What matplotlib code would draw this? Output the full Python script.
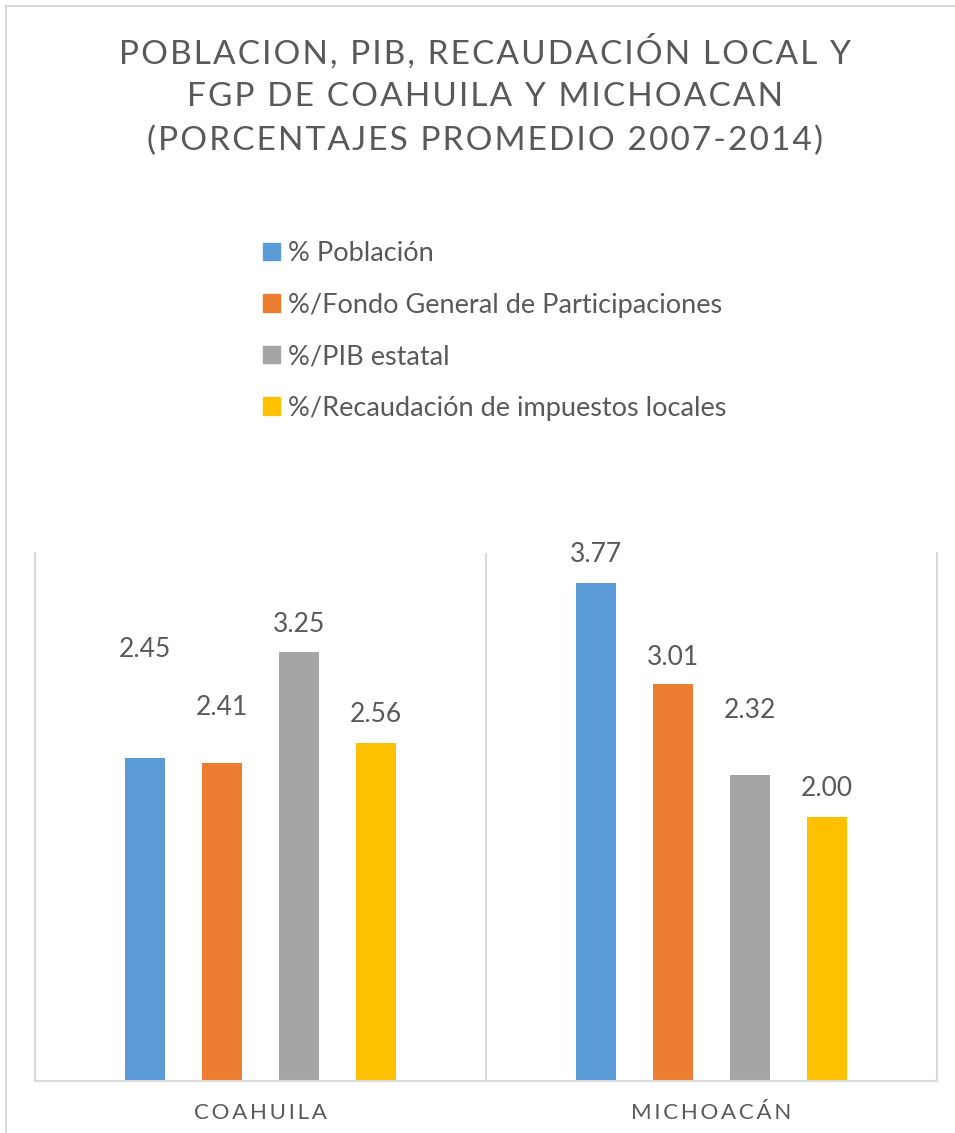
import matplotlib
matplotlib.use("Agg")
import matplotlib.pyplot as plt
from matplotlib.lines import Line2D
import numpy as np

plt.rcParams['font.family'] = ['Lato', 'DejaVu Sans']

# Data
categories = ["COAHUILA", "MICHOACÁN"]
series = ["% Población",
          "%/Fondo General de Participaciones",
          "%/PIB estatal",
          "%/Recaudación de impuestos locales"]
values = [
    [2.45, 3.77],   # % Población
    [2.41, 3.01],   # %/FGP
    [3.25, 2.32],   # %/PIB estatal
    [2.56, 2.00],   # %/Recaudación
]
colors = ["#5B9BD5", "#ED7D31", "#A5A5A5", "#FFC000"]
text_color = "#595959"
line_color = "#D9D9D9"

# label offsets above bar top (pixels), per series per category
label_offsets = [
    [108, 29],
    [55, 26],
    [27, 64],
    [29, 28],
]

W, H = 955, 1133


def track(s, sep="\u200a"):
    return sep.join(s)


fig = plt.figure(figsize=(W / 100, H / 100), dpi=100)

# chart border (top and left visible)
fig.add_artist(Line2D([6 / W, 1], [1 - 6 / H, 1 - 6 / H], color=line_color, lw=1.5))
fig.add_artist(Line2D([6 / W, 6 / W], [0, 1 - 6 / H], color=line_color, lw=1.5))

ax = fig.add_axes([35 / W, (H - 1081) / H, (937 - 35) / W, (1081 - 553) / H])

x = np.arange(len(categories))
step = 0.171
width = 0.0887
for i, (name, vals) in enumerate(zip(series, values)):
    pos = x + (i - 1.5) * step
    ax.bar(pos, vals, width, color=colors[i], label=name, zorder=2)
    for px, v, off in zip(pos, vals, label_offsets[i]):
        ax.annotate(f"{v:.2f}", (px, v), xytext=(0, off), textcoords="offset pixels",
                    ha="center", va="center", fontsize=19, color=text_color)

ax.set_xlim(-0.5, 1.5)
ax.set_ylim(0, 4)
ax.set_yticks([])
ax.set_xticks(x)
ax.set_xticklabels([track(c, "\u2009") for c in categories], fontsize=16, color=text_color)
ax.tick_params(axis="x", length=0, pad=16)
for side in ["left", "right", "bottom"]:
    ax.spines[side].set_color(line_color)
    ax.spines[side].set_linewidth(1.5)
ax.spines["top"].set_visible(False)
ax.axvline(0.5, color=line_color, lw=1.5, zorder=1)

# Title
title_lines = ["POBLACION, PIB, RECAUDACIÓN LOCAL Y",
               "FGP DE COAHUILA Y MICHOACAN",
               "(PORCENTAJES PROMEDIO 2007-2014)"]
for line, yc in zip(title_lines, [52, 97, 141]):
    fig.text(484.5 / W, 1 - yc / H, track(line), ha="center", va="center",
             fontsize=24, color=text_color)

# Legend
handles = [plt.Rectangle((0, 0), 1, 1, color=c) for c in colors]
fig.legend(handles, series, loc="upper left", bbox_to_anchor=(263 / W, 1 - 241 / H),
           frameon=False, fontsize=19.5, labelcolor=text_color,
           handlelength=0.63, handleheight=0.63, handletextpad=0.28,
           labelspacing=0.98, borderpad=0, borderaxespad=0)

fig.savefig("out.png", dpi=100)
